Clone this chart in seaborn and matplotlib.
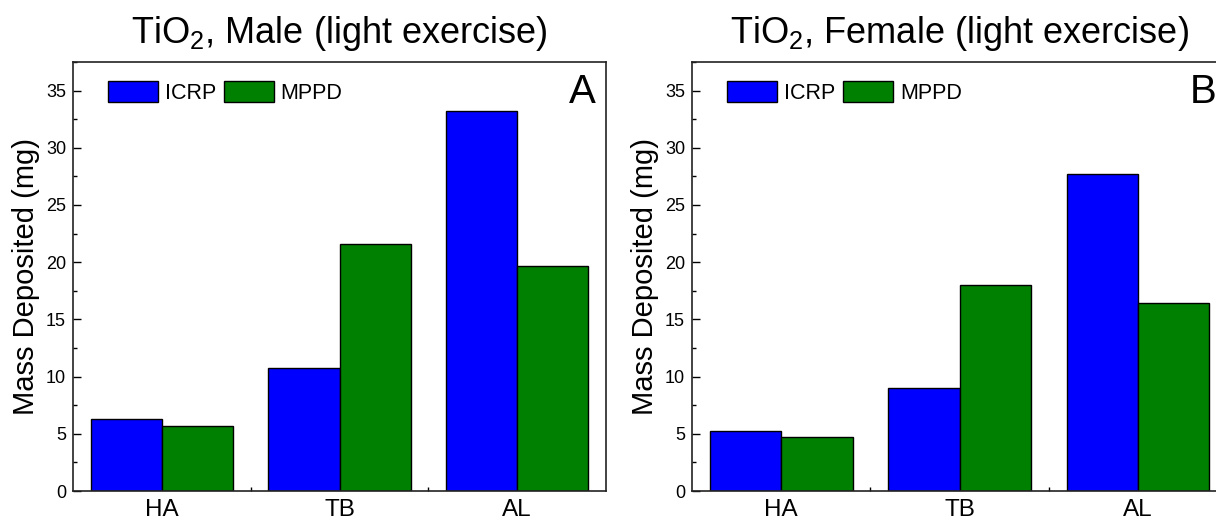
import matplotlib
matplotlib.use("Agg")
import matplotlib.pyplot as plt
import seaborn as sns
import pandas as pd

# Data
regions = ["HA", "TB", "AL"]
models = ["ICRP", "MPPD"]
male_icrp = [6.3, 10.78, 33.23]
male_mppd = [5.71, 21.63, 19.64]
female_icrp = [5.24, 9.0, 27.72]
female_mppd = [4.75, 18.05, 16.4]
titles = ["TiO$_2$, Male (light exercise)", "TiO$_2$, Female (light exercise)"]
panel_letters = ["A", "B"]
yticks = [0, 5, 10, 15, 20, 25, 30, 35]

palette = {"ICRP": "#0000ff", "MPPD": "#008000"}

sns.set_style("ticks")
plt.rcParams["font.family"] = ["Liberation Sans", "DejaVu Sans"]
plt.rcParams["mathtext.default"] = "regular"
plt.rcParams["text.color"] = "black"
plt.rcParams["axes.labelcolor"] = "black"
plt.rcParams["xtick.color"] = "black"
plt.rcParams["ytick.color"] = "black"


def make_df(icrp, mppd):
    rows = []
    for r, v in zip(regions, icrp):
        rows.append({"Region": r, "Model": "ICRP", "Mass": v})
    for r, v in zip(regions, mppd):
        rows.append({"Region": r, "Model": "MPPD", "Mass": v})
    return pd.DataFrame(rows)


frames = [make_df(male_icrp, male_mppd), make_df(female_icrp, female_mppd)]

fig = plt.figure(figsize=(12.16, 5.21), dpi=100)
ax_left = fig.add_axes([73 / 1216, 30 / 521, 533 / 1216, 429 / 521])
ax_right = fig.add_axes([692 / 1216, 30 / 521, 535 / 1216, 429 / 521])

for ax, df, title, letter in zip([ax_left, ax_right], frames, titles, panel_letters):
    sns.barplot(data=df, x="Region", y="Mass", hue="Model", order=regions,
                hue_order=models, palette=palette, saturation=1,
                edgecolor="black", linewidth=1, width=0.8, ax=ax)
    ax.set_xlim(-0.5, 2.5)
    ax.set_ylim(0, 37.5)
    ax.set_yticks(yticks)
    ax.set_yticks([y + 2.5 for y in yticks], minor=True)
    ax.set_xticks([0.5, 1.5], minor=True)
    ax.tick_params(axis="y", which="major", direction="in", length=5.5,
                   width=1, labelsize=13, pad=5)
    ax.tick_params(axis="y", which="minor", direction="in", length=3.2, width=1)
    ax.tick_params(axis="x", which="major", length=0, labelsize=17.5, pad=6)
    ax.tick_params(axis="x", which="minor", direction="in", length=3, width=1)
    for s in ax.spines.values():
        s.set_visible(True)
        s.set_linewidth(1.2)
        s.set_color("#222222")
    ax.set_xlabel("")
    ax.set_ylabel("Mass Deposited (mg)", fontsize=21, labelpad=4)
    ax.set_title(title, fontsize=26, pad=14)
    ax.text(0.981, 0.975, letter, transform=ax.transAxes, ha="right",
            va="top", fontsize=29)
    ax.legend(loc="center left", bbox_to_anchor=(0.066, 0.929), ncol=2,
              frameon=False, fontsize=15.5, handlelength=2.3,
              handleheight=1.15, handletextpad=0.33, columnspacing=0.37,
              borderpad=0, borderaxespad=0)

fig.savefig("out.png", dpi=100)
